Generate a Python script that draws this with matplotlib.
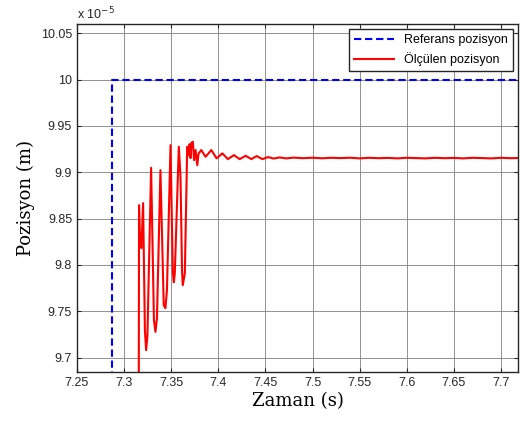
import matplotlib
matplotlib.use("Agg")
import matplotlib.pyplot as plt

# reference position (x 1e-5 m)
ref_t = [7.2876, 7.2876, 7.72]
ref_y = [9.60, 10.0, 10.0]

meas_t = [7.3155, 7.3159, 7.3170, 7.3184, 7.3202, 7.3221, 7.3234, 7.3248,
          7.3287, 7.3317, 7.3333, 7.3349, 7.3386, 7.3421, 7.3439, 7.3455,
          7.3493, 7.3517, 7.3528, 7.3538, 7.3581, 7.3599, 7.3615, 7.3623,
          7.3645, 7.3670, 7.3684, 7.3695, 7.3705, 7.3716, 7.3730, 7.3743,
          7.3759, 7.3777, 7.3790, 7.3819, 7.3865, 7.3926, 7.3982, 7.4043,
          7.4102, 7.4166, 7.4227, 7.4290, 7.4351, 7.4407, 7.4468, 7.4528,
          7.4588, 7.4650, 7.4720, 7.4800, 7.4900, 7.5000, 7.5100, 7.5200,
          7.5300, 7.5400, 7.5500, 7.5600, 7.5700, 7.5800, 7.5900, 7.6000,
          7.6100, 7.6200, 7.6300, 7.6400, 7.6500, 7.6600, 7.6700, 7.6800,
          7.6900, 7.7000, 7.7100, 7.7200]
meas_y = [9.600, 9.8645, 9.8202, 9.8181, 9.8667, 9.7295, 9.7079, 9.7240,
          9.9048, 9.7403, 9.7277, 9.7425, 9.9023, 9.7565, 9.7533, 9.7727,
          9.9293, 9.7921, 9.7813, 9.7900, 9.9275, 9.8948, 9.7943, 9.7781,
          9.7911, 9.9275, 9.9185, 9.9304, 9.9153, 9.9320, 9.9329, 9.9131,
          9.9240, 9.9077, 9.9200, 9.9240, 9.9167, 9.9240, 9.9150, 9.9204,
          9.9142, 9.9185, 9.9142, 9.9178, 9.9142, 9.9175, 9.9142, 9.9164,
          9.9148, 9.9160, 9.9150, 9.9158, 9.9152, 9.9157, 9.9151, 9.9156,
          9.9153, 9.9157, 9.9150, 9.9156, 9.9152, 9.9155, 9.9150, 9.9156,
          9.9153, 9.9150, 9.9156, 9.9152, 9.9155, 9.9150, 9.9156, 9.9153,
          9.9150, 9.9156, 9.9152, 9.9154]

xticks = [7.25, 7.3, 7.35, 7.4, 7.45, 7.5, 7.55, 7.6, 7.65, 7.7]
xlabels = ["7.25", "7.3", "7.35", "7.4", "7.45", "7.5", "7.55", "7.6", "7.65", "7.7"]
yticks = [9.7, 9.75, 9.8, 9.85, 9.9, 9.95, 10.0, 10.05]
ylabels = ["9.7", "9.75", "9.8", "9.85", "9.9", "9.95", "10", "10.05"]

plt.rcParams['font.family'] = ['Liberation Sans', 'DejaVu Sans']

fig = plt.figure(figsize=(5.2, 4.22), dpi=100)
ax = fig.add_axes([0.148, 0.1185, 0.848, 0.8245])

ax.plot(ref_t, ref_y, color='blue', linestyle=(0, (3.5, 1.8)), linewidth=1.5,
        label='Referans pozisyon')
ax.plot(meas_t, meas_y, color='red', linewidth=1.5, label='Ölçülen pozisyon')

ax.set_xlim(7.25, 7.718)
ax.set_ylim(9.6844, 10.06)
ax.set_xticks(xticks)
ax.set_xticklabels(xlabels)
ax.set_yticks(yticks)
ax.set_yticklabels(ylabels)
ax.tick_params(labelsize=9, direction='in', length=3, colors='#262626',
               top=True, right=True)
ax.grid(True, color='#808080', linewidth=0.6)
for s in ax.spines.values():
    s.set_color('#262626')
    s.set_linewidth(1.0)

ax.set_xlabel("Zaman (s)", family='DejaVu Serif', fontsize=13, labelpad=2)
ax.set_ylabel("Pozisyon (m)", family='DejaVu Serif', fontsize=13, labelpad=4)
fig.text(0.148, 0.955, r"x 10$^{-5}$", fontsize=9, color='#262626')

leg = ax.legend(loc='upper right', fontsize=9, fancybox=False, framealpha=1,
                edgecolor='#262626', handlelength=3.2, borderaxespad=0.4)
leg.get_frame().set_linewidth(1.0)

fig.savefig("out.png", dpi=100)
